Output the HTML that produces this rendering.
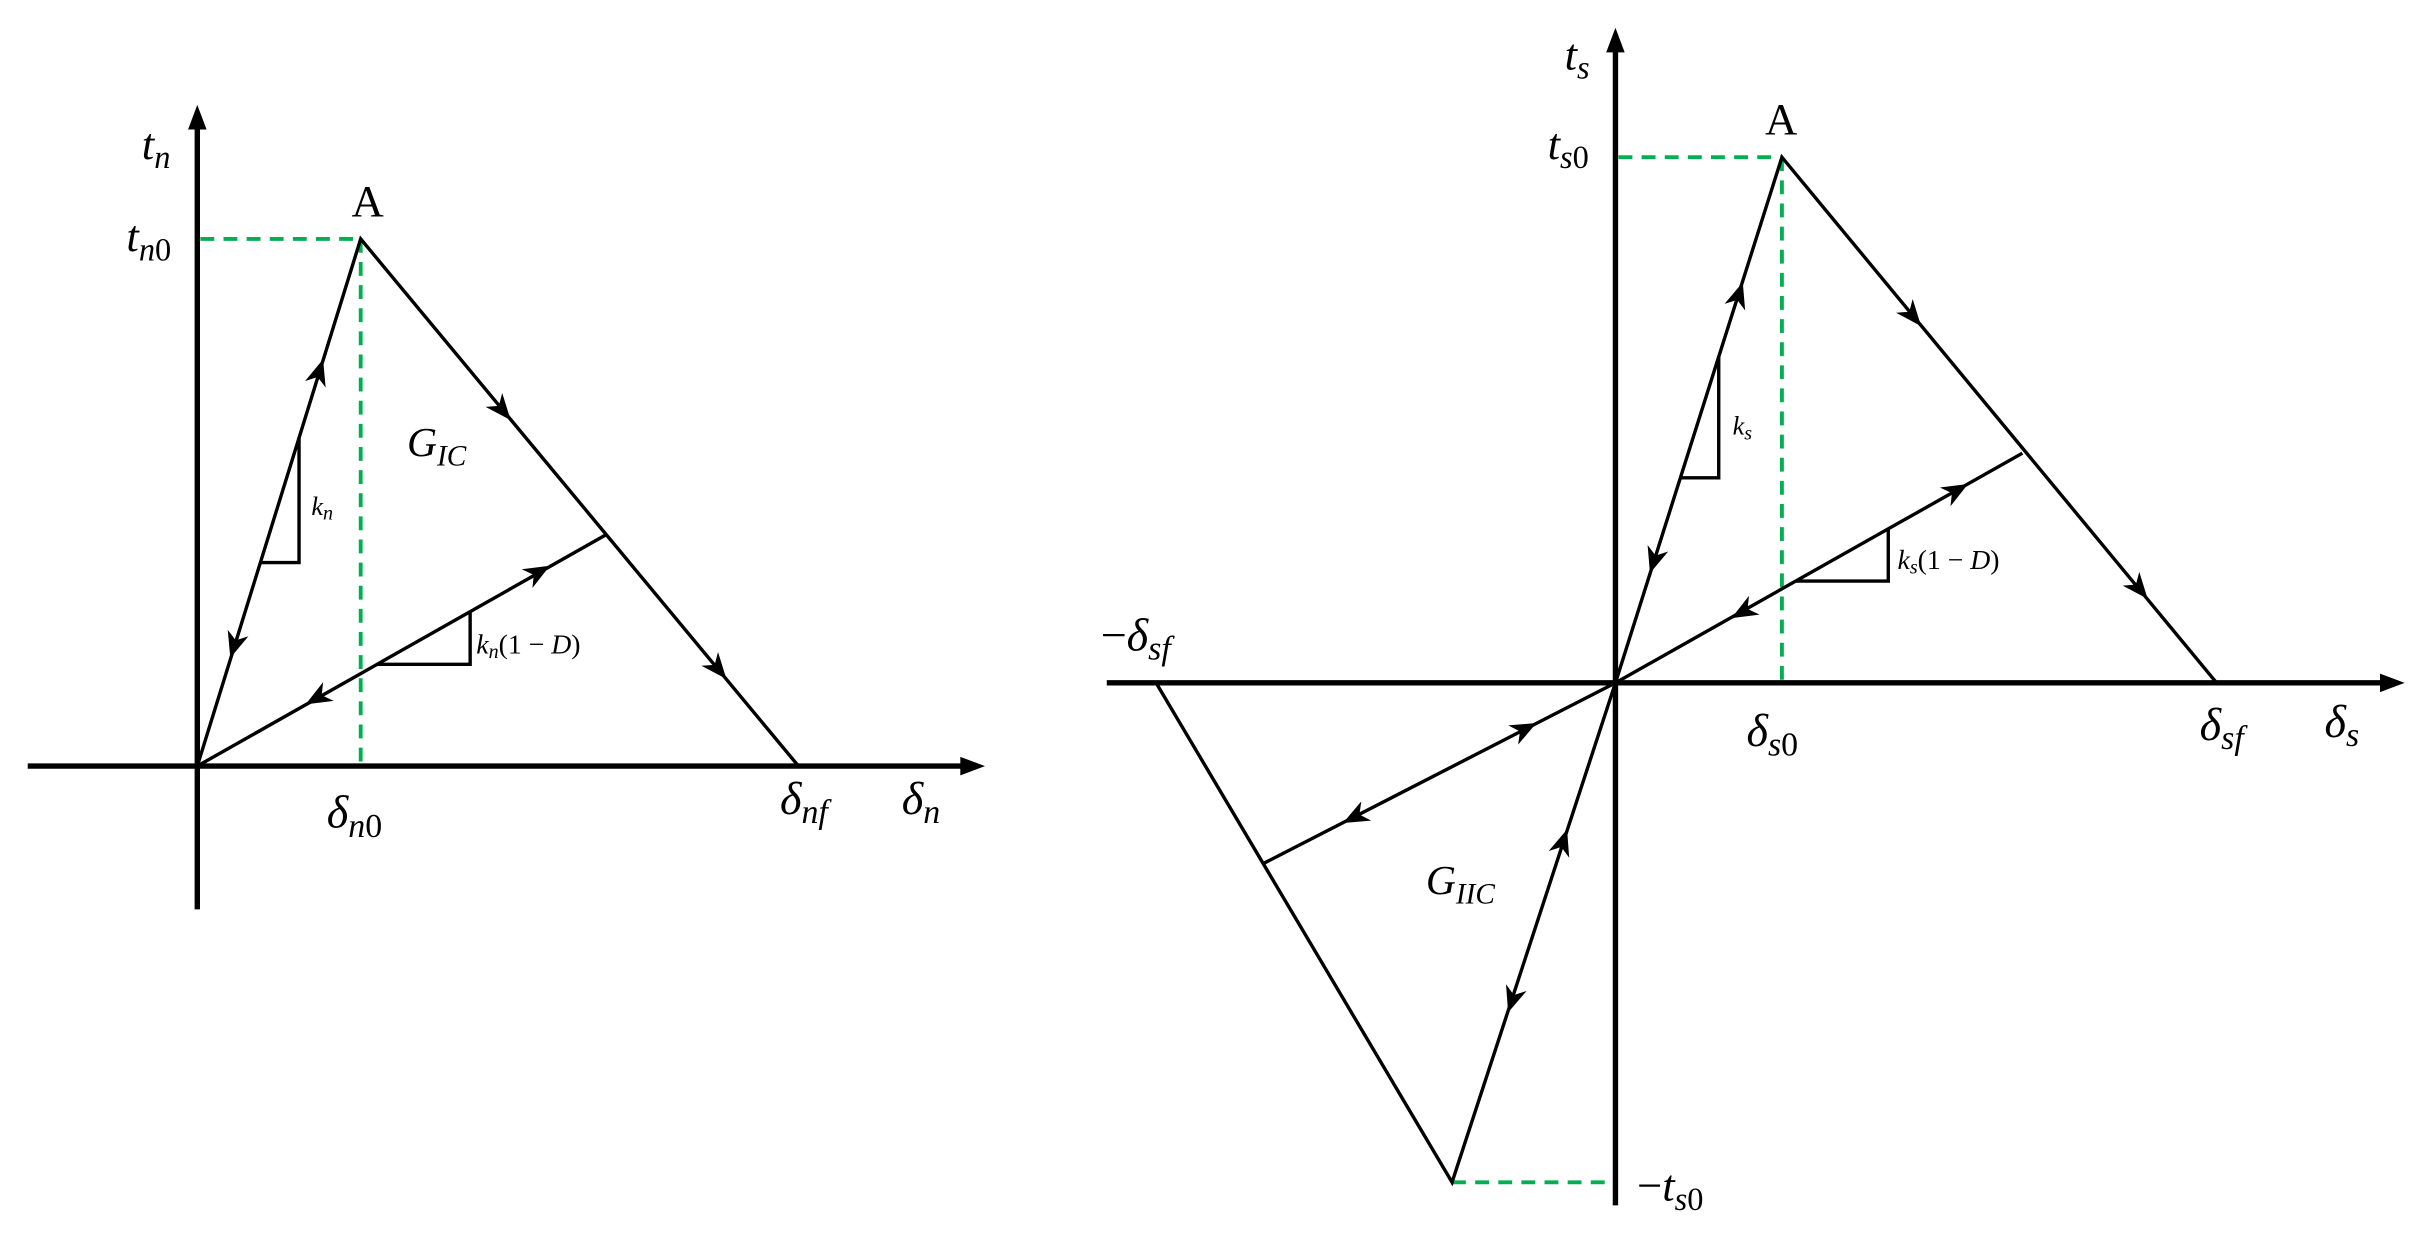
<!DOCTYPE html>
<html><head><meta charset="utf-8"><style>
html,body{margin:0;padding:0;background:#fff;}
svg{display:block;}
text{font-family:"Liberation Serif",serif;font-style:italic;fill:#000;}
.r{font-style:normal;}
</style></head><body>
<svg width="2417" height="1247" viewBox="0 0 1568 809" preserveAspectRatio="none" xmlns="http://www.w3.org/2000/svg">
<defs>
<path id="ah" d="M2,0 L-15,-7 L-10,0 L-15,7 Z" fill="#000"/>
</defs>
<rect width="1568" height="809" fill="#fff"/>
<!-- LEFT -->
<g stroke="#000" fill="none">
<line x1="128" y1="590" x2="128" y2="80" stroke-width="3.5"/>
<line x1="18" y1="497" x2="627" y2="497" stroke-width="3.5"/>
</g>
<polygon points="128,68 122,84 134,84" fill="#000"/>
<polygon points="639,497 623,491 623,503" fill="#000"/>
<g stroke="#00b050" stroke-width="2.5" stroke-dasharray="9,6" fill="none">
<line x1="130" y1="155" x2="234" y2="155"/>
<line x1="234" y1="155" x2="234" y2="497"/>
</g>
<g stroke="#000" stroke-width="2.2" fill="none">
<polyline points="128,497 234,155 518,497"/>
<line x1="128" y1="497" x2="393" y2="347"/>
<polyline points="194,284 194,365 169,365"/>
<polyline points="305,397 305,431 245,431"/>
</g>
<use href="#ah" transform="translate(209,235) rotate(-72.8)"/>
<use href="#ah" transform="translate(150,425) rotate(107.2)"/>
<use href="#ah" transform="translate(355,368) rotate(-29.5)"/>
<use href="#ah" transform="translate(200,456) rotate(150.5)"/>
<use href="#ah" transform="translate(330,271) rotate(50.3)"/>
<use href="#ah" transform="translate(470,439) rotate(50.3)"/>
<text x="92" y="103" font-size="29">t<tspan font-size="21" dy="6">n</tspan></text>
<text x="82" y="163" font-size="29">t<tspan font-size="21" dy="6">n<tspan class="r">0</tspan></tspan></text>
<text x="228" y="140" font-size="29" class="r">A</text>
<text x="264" y="296" font-size="27">G<tspan font-size="19" dy="6">IC</tspan></text>
<text x="202" y="334" font-size="17">k<tspan font-size="13" dy="3">n</tspan></text>
<text x="309" y="424" font-size="18">k<tspan font-size="13" dy="3">n</tspan><tspan dy="-3" class="r">(1 − </tspan>D<tspan class="r">)</tspan></text>
<text x="212" y="537" font-size="30">δ<tspan font-size="22" dy="6">n<tspan class="r">0</tspan></tspan></text>
<text x="506" y="528" font-size="30">δ<tspan font-size="22" dy="6">nf</tspan></text>
<text x="585" y="528" font-size="30">δ<tspan font-size="22" dy="6">n</tspan></text>
<!-- RIGHT -->
<g stroke="#000" fill="none">
<line x1="1048" y1="782" x2="1048" y2="30" stroke-width="3.5"/>
<line x1="718" y1="443" x2="1548" y2="443" stroke-width="3.5"/>
</g>
<polygon points="1048,18 1042,34 1054,34" fill="#000"/>
<polygon points="1560,443 1544,437 1544,449" fill="#000"/>
<g stroke="#00b050" stroke-width="2.5" stroke-dasharray="9,6" fill="none">
<line x1="1050" y1="102" x2="1156" y2="102"/>
<line x1="1156" y1="102" x2="1156" y2="443"/>
<line x1="942" y1="767" x2="1046" y2="767"/>
</g>
<g stroke="#000" stroke-width="2.2" fill="none">
<polyline points="1048,443 1156,102 1438,443"/>
<line x1="1048" y1="443" x2="1312" y2="294"/>
<polyline points="750,443 942,767 1048,443"/>
<line x1="1048" y1="443" x2="820" y2="560"/>
<polyline points="1115,231 1115,310 1090,310"/>
<polyline points="1225,343 1225,377 1165,377"/>
</g>
<use href="#ah" transform="translate(1130,185) rotate(-72.4)"/>
<use href="#ah" transform="translate(1071,370) rotate(107.6)"/>
<use href="#ah" transform="translate(1275,315) rotate(-29.4)"/>
<use href="#ah" transform="translate(1125,400) rotate(150.6)"/>
<use href="#ah" transform="translate(1245,210) rotate(50.4)"/>
<use href="#ah" transform="translate(1392,387) rotate(50.4)"/>
<use href="#ah" transform="translate(1016,540) rotate(-71.9)"/>
<use href="#ah" transform="translate(979,655) rotate(108.1)"/>
<use href="#ah" transform="translate(995,470) rotate(-27.2)"/>
<use href="#ah" transform="translate(873,533) rotate(152.8)"/>
<text x="1015" y="45" font-size="29">t<tspan font-size="21" dy="6">s</tspan></text>
<text x="1004" y="103" font-size="29">t<tspan font-size="21" dy="6">s<tspan class="r">0</tspan></tspan></text>
<text x="1145" y="87" font-size="29" class="r">A</text>
<text x="1124" y="282" font-size="17">k<tspan font-size="13" dy="3">s</tspan></text>
<text x="1231" y="369" font-size="18">k<tspan font-size="13" dy="3">s</tspan><tspan dy="-3" class="r">(1 − </tspan>D<tspan class="r">)</tspan></text>
<text x="714" y="422" font-size="30"><tspan class="r">−</tspan>δ<tspan font-size="22" dy="6">sf</tspan></text>
<text x="1133" y="484" font-size="30">δ<tspan font-size="22" dy="6">s<tspan class="r">0</tspan></tspan></text>
<text x="1427" y="480" font-size="30">δ<tspan font-size="22" dy="6">sf</tspan></text>
<text x="1508" y="478" font-size="30">δ<tspan font-size="22" dy="6">s</tspan></text>
<text x="925" y="580" font-size="27">G<tspan font-size="19" dy="6">IIC</tspan></text>
<text x="1062" y="779" font-size="29"><tspan class="r">−</tspan>t<tspan font-size="21" dy="6">s<tspan class="r">0</tspan></tspan></text>
</svg>
</body></html>
